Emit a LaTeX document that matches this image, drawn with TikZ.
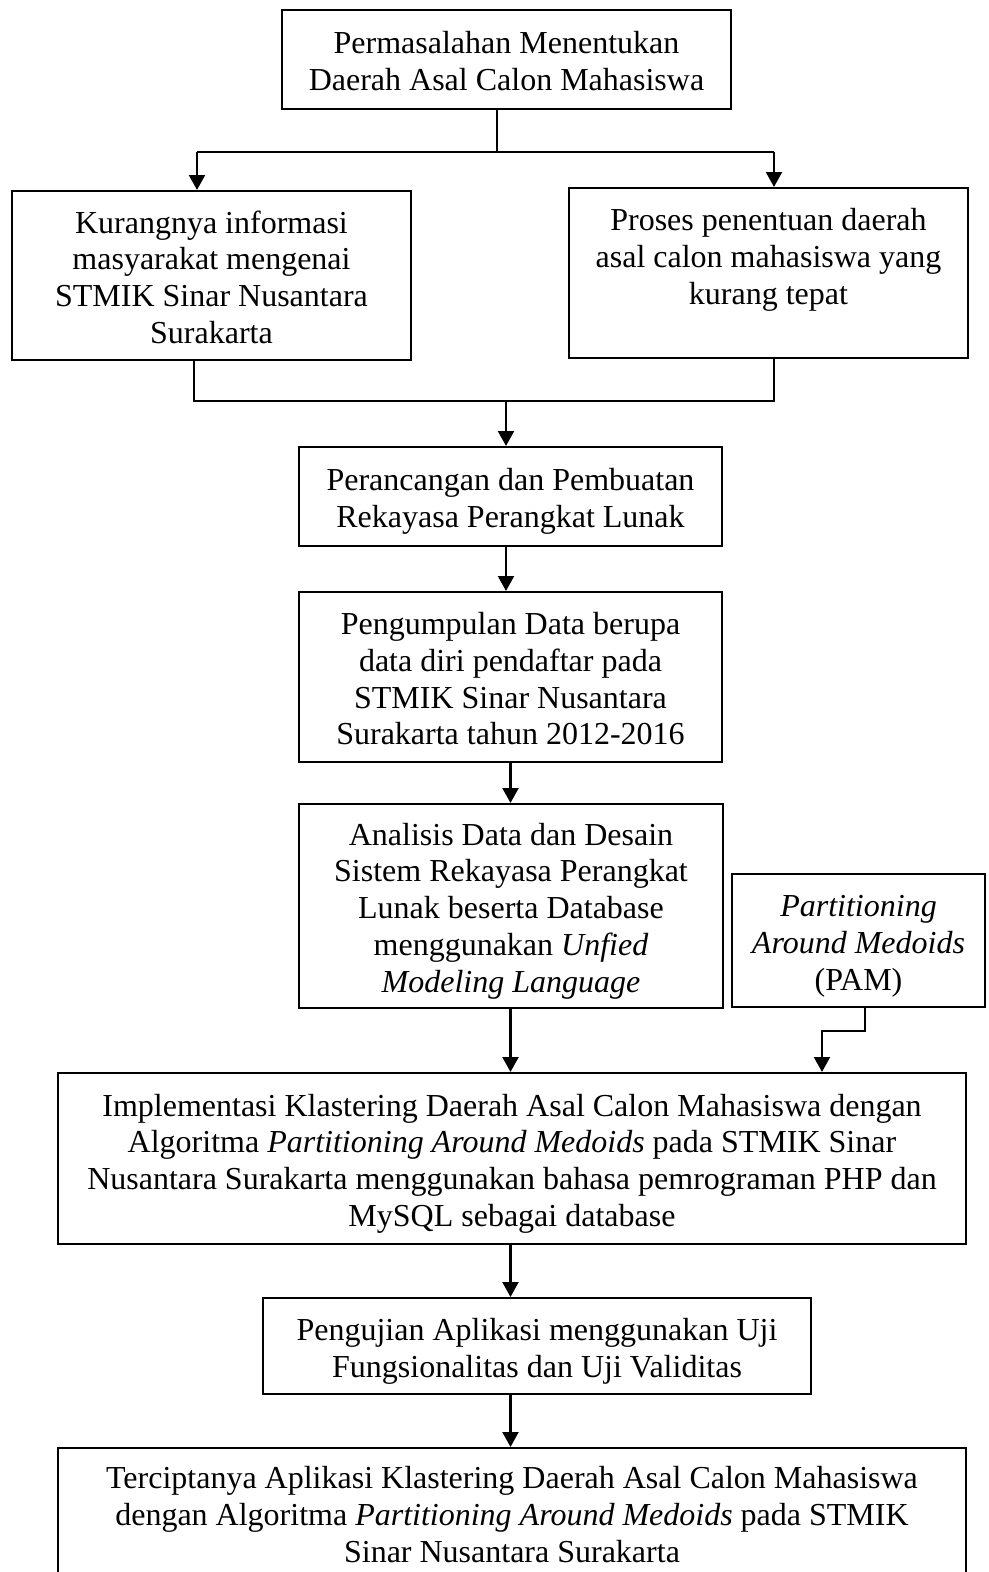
\documentclass[tikz,border=0pt]{standalone}
\usepackage{fontspec}
\setmainfont{Liberation Serif}
\usetikzlibrary{arrows.meta}

% teks kotak: baris-baris rata tengah, sedikit diturunkan
\newcommand{\baris}[1]{\raisebox{-2pt}[\height][\depth]{\begin{tabular}{@{}c@{}}#1\end{tabular}}}

\tikzset{
  kotak/.style={draw,line width=0.8pt,inner sep=0pt,
    font=\fontsize{12pt}{13.8pt}\selectfont},
  ukuran/.style 2 args={minimum width=#1*0.375pt,minimum height=#2*0.375pt},
  garis/.style={line width=0.8pt},
  panah/.style={garis,-{Triangle[length=5.6pt,width=6pt]}}
}

\begin{document}
\begin{tikzpicture}[x=0.375pt,y=-0.375pt,line join=miter]
  \useasboundingbox (0,0) rectangle (988,1572);

  % Masalah dan dua penyebabnya
  \node[kotak,ukuran={449}{99}] (masalah) at (506.5,59.5)
    {\baris{Permasalahan Menentukan\\Daerah Asal Calon Mahasiswa}};
  \node[kotak,ukuran={399}{169}] (kurang) at (211.5,275.5)
    {\baris{Kurangnya informasi\\masyarakat mengenai\\STMIK Sinar Nusantara\\Surakarta}};
  \node[kotak,ukuran={399}{170}] (proses) at (768.5,273)
    {\baris{Proses penentuan daerah\\asal calon mahasiswa yang\\kurang tepat\\ \mbox{}}};

  % Alur utama
  \node[kotak,ukuran={423}{99}] (rancang) at (510.5,496.5)
    {\baris{Perancangan dan Pembuatan\\Rekayasa Perangkat Lunak}};
  \node[kotak,ukuran={423}{170}] (kumpul) at (510.5,677)
    {\baris{Pengumpulan Data berupa\\data diri pendaftar pada\\STMIK Sinar Nusantara\\Surakarta tahun 2012-2016}};
  \node[kotak,ukuran={424}{204}] (analisis) at (511,906)
    {\baris{Analisis Data dan Desain\\Sistem Rekayasa Perangkat\\Lunak beserta Database\\menggunakan \textit{Unfied}\\\textit{Modeling Language}}};
  \node[kotak,ukuran={253}{133}] (pam) at (858.5,940.5)
    {\baris{\textit{Partitioning}\\\textit{Around Medoids}\\(PAM)}};
  \node[kotak,ukuran={908}{171}] (impl) at (512,1158.5)
    {\baris{Implementasi Klastering Daerah Asal Calon Mahasiswa dengan\\Algoritma \textit{Partitioning Around Medoids} pada STMIK Sinar\\Nusantara Surakarta menggunakan bahasa pemrograman PHP dan\\MySQL sebagai database}};
  \node[kotak,ukuran={548}{96}] (uji) at (537,1346)
    {\baris{Pengujian Aplikasi menggunakan Uji\\Fungsionalitas dan Uji Validitas}};
  \node[kotak,ukuran={908}{129}] (hasil) at (512,1512.5)
    {\baris{Terciptanya Aplikasi Klastering Daerah Asal Calon Mahasiswa\\dengan Algoritma \textit{Partitioning Around Medoids} pada STMIK\\Sinar Nusantara Surakarta}};

  % Titik belok
  \coordinate (cabang) at (497,152);
  \coordinate (cabangL) at (197,152);
  \coordinate (cabangR) at (774,152);
  \coordinate (gabungL) at (194,401);
  \coordinate (gabungR) at (774,401);
  \coordinate (gabungM) at (506,401);
  \coordinate (belok1) at (865,1031);
  \coordinate (belok2) at (822,1031);

  \draw[garis] (masalah.south -| cabang) -- (cabang);
  \draw[garis] (cabangL) -- (cabangR);
  \draw[panah] (cabangL) -- (cabangL |- kurang.north);
  \draw[panah] (cabangR) -- (cabangR |- proses.north);

  \draw[garis] (kurang.south -| gabungL) -- (gabungL) -- (gabungR) -- (proses.south -| gabungR);
  \draw[panah] (gabungM) -- (gabungM |- rancang.north);
  \draw[panah] (rancang.south -| gabungM) -- (kumpul.north -| gabungM);
  \draw[panah] (kumpul.south) -- (analisis.north -| kumpul.south);
  \draw[panah] (analisis.south -| kumpul) -- (impl.north -| kumpul);
  \draw[panah] (pam.south -| belok1) -- (belok1) -- (belok2) -- (belok2 |- impl.north);
  \draw[panah] (impl.south -| kumpul) -- (uji.north -| kumpul);
  \draw[panah] (uji.south -| kumpul) -- (hasil.north -| kumpul);
\end{tikzpicture}
\end{document}
